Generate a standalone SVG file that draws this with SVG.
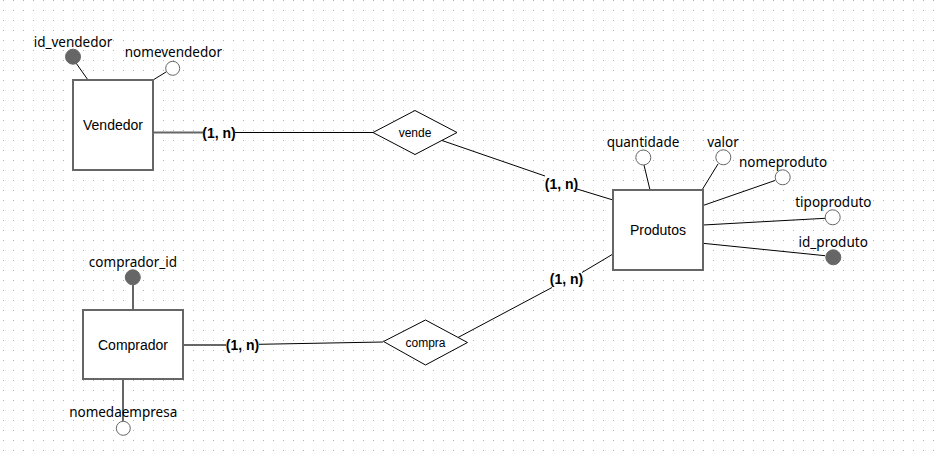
<svg xmlns="http://www.w3.org/2000/svg" width="940" height="453" viewBox="0 0 940 453">
<defs>
<pattern id="grid" x="0" y="0" width="10" height="10" patternUnits="userSpaceOnUse">
<rect x="3" y="0" width="1" height="1" fill="#b0b0b0"/>
</pattern>
</defs>
<style>
.ent{fill:#fff;stroke:#666;stroke-width:2}
.rel{fill:#fff;stroke:#000;stroke-width:1}
.ln{stroke:#000;stroke-width:1;fill:none}
.eln{stroke:#666;stroke-width:2;fill:none}
.key{fill:#666;stroke:#666;stroke-width:1}
.att{fill:#fff;stroke:#666;stroke-width:1}
.t{font-family:"Liberation Sans",Arial,sans-serif;font-size:14px;fill:#000;text-anchor:middle}
.tr{font-family:"Liberation Sans",Arial,sans-serif;font-size:12px;fill:#000;text-anchor:middle}
.ta{font-family:"Noto Sans","Open Sans",sans-serif;font-size:13.5px;fill:#000;text-anchor:middle}
.card{font-family:"Liberation Sans",Arial,sans-serif;font-size:14px;font-weight:bold;fill:#000;text-anchor:middle}
</style>
<rect width="940" height="453" fill="#fff"/>
<rect width="940" height="453" fill="url(#grid)"/>

<g id="connectors">
<line class="eln" x1="153" y1="132.5" x2="203" y2="132.5"/>
<line class="ln" x1="235" y1="132.5" x2="373" y2="132.5"/>
<line class="ln" x1="442" y1="140.5" x2="545" y2="176"/>
<line class="ln" x1="577" y1="189" x2="613" y2="200"/>
<line class="eln" x1="183" y1="345" x2="226" y2="345"/>
<line class="ln" x1="259" y1="344.3" x2="383" y2="342"/>
<line class="ln" x1="458" y1="337.5" x2="552" y2="287.5"/>
<line class="ln" x1="582" y1="272.5" x2="613" y2="254"/>
<line class="ln" x1="88" y1="80" x2="76" y2="63"/>
<line class="ln" x1="153" y1="80" x2="166" y2="72"/>
<line class="ln" x1="650" y1="190" x2="644" y2="165"/>
<line class="ln" x1="702" y1="190" x2="718" y2="164"/>
<line class="ln" x1="703" y1="205.5" x2="775" y2="180.5"/>
<line class="ln" x1="703" y1="225" x2="825" y2="218.3"/>
<line class="ln" x1="703" y1="243.3" x2="825" y2="255.7"/>
<line class="eln" x1="133" y1="285" x2="133" y2="310"/>
<line class="eln" x1="123" y1="379" x2="123" y2="421"/>
<text class="card" x="219" y="137.5">(1, n)</text>
<text class="card" x="561.5" y="188.5">(1, n)</text>
<text class="card" x="242.5" y="349.5">(1, n)</text>
<text class="card" x="566.5" y="283.5">(1, n)</text>
</g>

<g id="vendedor">
<rect class="ent" x="73" y="80" width="80" height="90"/>
<text class="t" x="113" y="130">Vendedor</text>
</g>
<g id="attr-id_vendedor">
<circle class="key" cx="73" cy="56.7" r="7.5"/>
<text class="ta" x="73" y="47">id_vendedor</text>
</g>
<g id="attr-nomevendedor">
<circle class="att" cx="172.7" cy="68.3" r="7"/>
<text class="ta" x="173.4" y="57">nomevendedor</text>
</g>

<g id="vende">
<polygon class="rel" points="373,132.5 415,110.5 457,132.5 415,154.5"/>
<text class="tr" x="415" y="137">vende</text>
</g>

<g id="produtos">
<rect class="ent" x="613" y="190" width="90" height="80"/>
<text class="t" x="658" y="235">Produtos</text>
</g>
<g id="attr-quantidade">
<circle class="att" cx="643.3" cy="157.5" r="7.5"/>
<text class="ta" x="643" y="147">quantidade</text>
</g>
<g id="attr-valor">
<circle class="att" cx="723.3" cy="157.3" r="7.5"/>
<text class="ta" x="723" y="147">valor</text>
</g>
<g id="attr-nomeproduto">
<circle class="att" cx="782.7" cy="177.3" r="7.5"/>
<text class="ta" x="783" y="167">nomeproduto</text>
</g>
<g id="attr-tipoproduto">
<circle class="att" cx="832.7" cy="217.3" r="7.5"/>
<text class="ta" x="833.4" y="206.5">tipoproduto</text>
</g>
<g id="attr-id_produto">
<circle class="key" cx="833.3" cy="257.3" r="7.5"/>
<text class="ta" x="833.2" y="246.5">id_produto</text>
</g>

<g id="comprador">
<rect class="ent" x="83" y="310" width="100" height="69"/>
<text class="t" x="133" y="349.5">Comprador</text>
</g>
<g id="attr-comprador_id">
<circle class="key" cx="132.8" cy="277.3" r="7.5"/>
<text class="ta" x="133" y="266.5">comprador_id</text>
</g>
<g id="attr-nomedaempresa">
<circle class="att" cx="123.3" cy="428.3" r="7"/>
<text class="ta" x="123.2" y="417">nomedaempresa</text>
</g>

<g id="compra">
<polygon class="rel" points="383.5,341.5 425.5,320 467.5,342.5 425.5,365"/>
<text class="tr" x="425.5" y="346.5">compra</text>
</g>
</svg>
